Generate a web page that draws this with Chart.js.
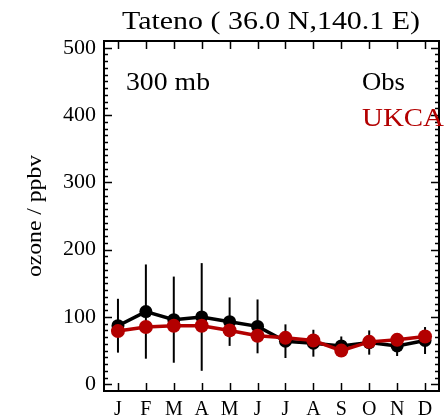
<!DOCTYPE html>
<html lang="en">
<head>
    <meta charset="UTF-8">
    <title>Tateno ozone 300 mb</title>
    <script src="https://cdn.jsdelivr.net/npm/chart.js"></script>
    <style>
        body {
            margin: 0;
            background: #fff;
        }
        .chart-container {
            width: 446px;
            height: 419px;
            position: relative;
        }
    </style>
</head>
<body>
    <div class="chart-container">
        <canvas id="ozoneChart"></canvas>
    </div>

    <script>
        // monthly ozone at 300 mb, ppbv
        const months = ['J', 'F', 'M', 'A', 'M', 'J', 'J', 'A', 'S', 'O', 'N', 'D'];
        const obsMean = [87, 108, 96, 100, 93, 86, 64, 61, 57, 62, 57, 65];
        const obsStd = [40, 70, 64, 80, 36, 40, 25, 20, 14, 18, 15, 20];
        const ukca = [79, 85, 87, 87, 80, 72, 69, 65, 50, 63, 66, 71];
        const yTicks = [0, 100, 200, 300, 400, 500];

        const serif = '"Liberation Serif", "DejaVu Serif", serif';
        const red = '#b30000';

        const toPoints = vals => vals.map((v, i) => ({ x: i + 1, y: v }));

        // draw text stretched sideways to a given width (the plot font is a wide one)
        function wideText(ctx, text, x, y, width, align) {
            const w = ctx.measureText(text).width;
            ctx.save();
            ctx.translate(x, y);
            ctx.scale(width / w, 1);
            ctx.textAlign = align;
            ctx.fillText(text, 0, 0);
            ctx.restore();
        }

        // frame, inward ticks, error bars and text labels
        const idlFrame = {
            id: 'idlFrame',
            beforeDatasetsDraw(chart) {
                const ctx = chart.ctx;
                const xs = chart.scales.x, ys = chart.scales.y;
                ctx.save();
                ctx.strokeStyle = '#000';
                ctx.lineWidth = 2;
                obsMean.forEach((m, i) => {
                    const px = xs.getPixelForValue(i + 1);
                    ctx.beginPath();
                    ctx.moveTo(px, ys.getPixelForValue(m - obsStd[i]));
                    ctx.lineTo(px, ys.getPixelForValue(m + obsStd[i]));
                    ctx.stroke();
                });
                ctx.restore();
            },
            afterDraw(chart) {
                const ctx = chart.ctx;
                const a = chart.chartArea;
                const xs = chart.scales.x, ys = chart.scales.y;
                ctx.save();
                ctx.strokeStyle = '#000';
                ctx.lineWidth = 2;
                ctx.strokeRect(a.left, a.top, a.right - a.left, a.bottom - a.top);

                ctx.lineWidth = 1.5;
                ctx.beginPath();
                for (let v = 0; v <= 500; v += 10) {
                    const py = Math.round(ys.getPixelForValue(v)) + 0.5;
                    const len = v % 100 === 0 ? 8 : 4;
                    ctx.moveTo(a.left, py); ctx.lineTo(a.left + len, py);
                    ctx.moveTo(a.right, py); ctx.lineTo(a.right - len, py);
                }
                months.forEach((m, i) => {
                    const px = Math.round(xs.getPixelForValue(i + 1)) + 0.5;
                    ctx.moveTo(px, a.bottom); ctx.lineTo(px, a.bottom - 8);
                    ctx.moveTo(px, a.top); ctx.lineTo(px, a.top + 8);
                });
                ctx.stroke();

                ctx.fillStyle = '#000';
                ctx.textBaseline = 'middle';
                ctx.font = '25px ' + serif;
                wideText(ctx, 'Tateno ( 36.0 N,140.1 E)', 122, 22, 298, 'left');

                ctx.font = '25px ' + serif;
                wideText(ctx, '300 mb', 126, 83, 84, 'left');
                wideText(ctx, 'Obs', 362, 83, 43, 'left');
                ctx.fillStyle = red;
                wideText(ctx, 'UKCA', 362, 119, 82, 'left');

                ctx.fillStyle = '#000';
                ctx.translate(35, 216);
                ctx.rotate(-Math.PI / 2);
                ctx.font = '21px ' + serif;
                wideText(ctx, 'ozone / ppbv', 0, 0, 122, 'center');
                ctx.restore();
            }
        };

        const ctx = document.getElementById('ozoneChart').getContext('2d');
        new Chart(ctx, {
            type: 'line',
            data: {
                datasets: [{
                    label: 'Obs',
                    data: toPoints(obsMean),
                    borderColor: '#000',
                    backgroundColor: '#000',
                    borderWidth: 3.5,
                    pointRadius: 6.5,
                    pointBorderWidth: 0,
                    order: 2
                }, {
                    label: 'UKCA',
                    data: toPoints(ukca),
                    borderColor: red,
                    backgroundColor: red,
                    borderWidth: 3.5,
                    pointRadius: 7,
                    pointBorderWidth: 0,
                    order: 1
                }]
            },
            options: {
                responsive: true,
                maintainAspectRatio: false,
                animation: false,
                layout: { padding: { top: 41, right: 3, left: 0, bottom: 0 } },
                plugins: {
                    legend: { display: false },
                    tooltip: { enabled: false }
                },
                scales: {
                    x: {
                        type: 'linear',
                        min: 0.5,
                        max: 12.5,
                        afterFit: s => { s.height = 28; },
                        afterBuildTicks: s => { s.ticks = months.map((m, i) => ({ value: i + 1 })); },
                        ticks: {
                            callback: (v) => months[v - 1],
                            autoSkip: false,
                            maxRotation: 0,
                            padding: -1,
                            color: '#000',
                            font: { family: serif, size: 20 }
                        },
                        grid: { display: false },
                        border: { display: false }
                    },
                    y: {
                        min: -10,
                        max: 510,
                        afterFit: s => { s.width = 104; },
                        afterBuildTicks: s => { s.ticks = yTicks.map(v => ({ value: v })); },
                        ticks: {
                            padding: 0,
                            color: '#000',
                            font: { family: serif, size: 22 }
                        },
                        grid: { display: false },
                        border: { display: false }
                    }
                }
            },
            plugins: [idlFrame]
        });
    </script>
</body>
</html>
